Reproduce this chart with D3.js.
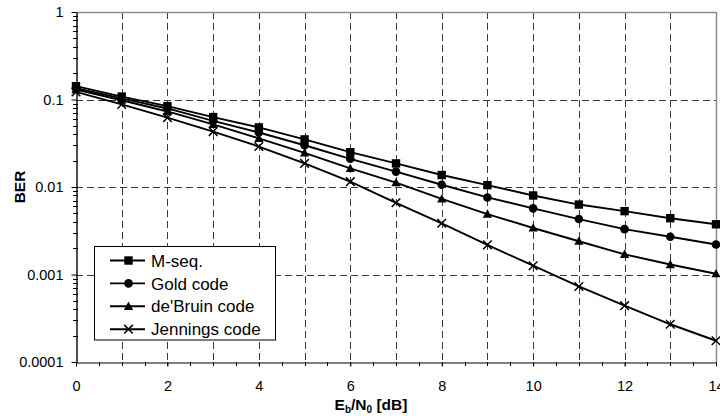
<!DOCTYPE html>
<html>
<head>
<meta charset="utf-8">
<script src="https://cdn.jsdelivr.net/npm/d3@7/dist/d3.min.js"></script>
<style>
  html, body { margin: 0; padding: 0; background: #fff; }
  svg { display: block; font-family: Arial, "Liberation Sans", sans-serif; }
</style>
</head>
<body>
<svg id="chart" width="720" height="416"></svg>
<script>
// Eb/N0 in dB
const snr = [0, 1, 2, 3, 4, 5, 6, 7, 8, 9, 10, 11, 12, 13, 14];

// Bit error rate per spreading code
const berMseq     = [0.142, 0.108, 0.084, 0.063, 0.048, 0.035, 0.025, 0.0186, 0.0137, 0.0105, 0.0080, 0.0063, 0.0053, 0.0044, 0.00375];
const berGold     = [0.135, 0.103, 0.079, 0.057, 0.042, 0.030, 0.021, 0.0150, 0.0106, 0.0076, 0.0057, 0.0043, 0.0033, 0.0027, 0.0022];
const berDeBruin  = [0.130, 0.098, 0.073, 0.052, 0.036, 0.0246, 0.0163, 0.0112, 0.0073, 0.0049, 0.0034, 0.0024, 0.0017, 0.0013, 0.00102];
const berJennings = [0.122, 0.088, 0.062, 0.043, 0.029, 0.0186, 0.0115, 0.0066, 0.00385, 0.00218, 0.00126, 0.00073, 0.00044, 0.00027, 0.000175];

const seriesNames = ["M-seq.", "Gold code", "de'Bruin code", "Jennings code"];
const seriesMarkers = ["square", "circle", "triangle", "cross"];

const xTickValues = [0, 2, 4, 6, 8, 10, 12, 14];
const yTickValues = [0.0001, 0.001, 0.01, 0.1, 1];
const yTickLabels = ["0.0001", "0.001", "0.01", "0.1", "1"];

const series = [berMseq, berGold, berDeBruin, berJennings].map((vals, i) => ({
  name: seriesNames[i],
  marker: seriesMarkers[i],
  points: snr.map((s, j) => ({ x: s, y: vals[j] }))
}));

const svg = d3.select("#chart");
const plot = { left: 76, right: 716, top: 12, bottom: 362 };

const x = d3.scaleLinear().domain([0, 14]).range([plot.left, plot.right]);
const y = d3.scaleLog().domain([0.0001, 1]).range([plot.bottom, plot.top]);

// Dashed grid
const grid = svg.append("g").attr("stroke", "#3a3a3a").attr("stroke-width", 1)
  .attr("stroke-dasharray", "7,4").attr("fill", "none");
d3.range(1, 14).forEach(v => {
  const px = Math.round(x(v)) + 0.5;
  grid.append("line").attr("x1", px).attr("x2", px).attr("y1", plot.top).attr("y2", plot.bottom);
});
[0.1, 0.01, 0.001].forEach(v => {
  const py = Math.round(y(v)) + 0.5;
  grid.append("line").attr("x1", plot.left).attr("x2", plot.right).attr("y1", py).attr("y2", py);
});

// Plot frame: grey top and right edges
svg.append("line").attr("x1", plot.left).attr("x2", plot.right + 0.5)
  .attr("y1", plot.top + 0.5).attr("y2", plot.top + 0.5)
  .attr("stroke", "#8c8c8c").attr("stroke-width", 1.5);
svg.append("line").attr("x1", plot.right + 0.5).attr("x2", plot.right + 0.5)
  .attr("y1", plot.top).attr("y2", plot.bottom)
  .attr("stroke", "#8c8c8c").attr("stroke-width", 1.5);

// X axis with minor ticks every 0.5 dB
const xAxis = d3.axisBottom(x).tickValues(xTickValues).tickSize(4).tickSizeOuter(0)
  .tickFormat(d3.format("d"));
const gx = svg.append("g").attr("transform", `translate(0,${plot.bottom + 0.5})`).call(xAxis);
gx.select(".domain").attr("stroke", "#000").attr("stroke-width", 1.2);
gx.selectAll(".tick text").attr("font-size", "14.5px").attr("font-family", "Arial, 'Liberation Sans', sans-serif")
  .attr("fill", "#000").attr("dy", "1.45em");
gx.selectAll(".tick line").attr("stroke", "#000");
const xMinor = svg.append("g").attr("stroke", "#000").attr("stroke-width", 1);
d3.range(0, 14.01, 0.5).forEach(v => {
  const px = Math.round(x(v)) + 0.5;
  xMinor.append("line").attr("x1", px).attr("x2", px).attr("y1", plot.bottom).attr("y2", plot.bottom + 4);
});

// Y axis (log) with minor ticks
const yAxis = d3.axisLeft(y).tickValues(yTickValues).tickSize(5).tickSizeOuter(0)
  .tickFormat((d, i) => yTickLabels[i]);
const gy = svg.append("g").attr("transform", `translate(${plot.left + 0.5},0)`).call(yAxis);
gy.select(".domain").attr("stroke", "#000").attr("stroke-width", 1.4);
gy.selectAll(".tick line").attr("stroke", "#000");
gy.selectAll(".tick text").attr("font-size", "14.5px").attr("font-family", "Arial, 'Liberation Sans', sans-serif")
  .attr("fill", "#000").attr("x", -13);
const yMinor = svg.append("g").attr("stroke", "#000").attr("stroke-width", 1);
[0.0001, 0.001, 0.01, 0.1].forEach(dec => {
  d3.range(2, 10).forEach(m => {
    const py = Math.round(y(dec * m)) + 0.5;
    yMinor.append("line").attr("x1", plot.left - 3).attr("x2", plot.left + 2).attr("y1", py).attr("y2", py);
  });
});

// Axis titles
svg.append("text").attr("transform", `translate(25,${(plot.top + plot.bottom) / 2}) rotate(-90)`)
  .attr("text-anchor", "middle").attr("font-size", "15.5px").attr("font-weight", "bold").text("BER");

const xt = svg.append("text").attr("x", 371).attr("y", 409.5).attr("text-anchor", "middle")
  .attr("font-size", "15.5px").attr("font-weight", "bold");
xt.append("tspan").text("E");
xt.append("tspan").attr("font-size", "10px").attr("dy", "3").text("b");
xt.append("tspan").attr("dy", "-3").text("/N");
xt.append("tspan").attr("font-size", "10px").attr("dy", "3").text("0");
xt.append("tspan").attr("dy", "-3").text(" [dB]");

// Marker drawing
function drawMarker(g, type, cx, cy) {
  if (type === "square") {
    g.append("rect").attr("x", cx - 4.2).attr("y", cy - 4.2).attr("width", 8.4).attr("height", 8.4).attr("fill", "#000");
  } else if (type === "circle") {
    g.append("circle").attr("cx", cx).attr("cy", cy).attr("r", 4.3).attr("fill", "#000");
  } else if (type === "triangle") {
    g.append("path").attr("d", `M${cx},${cy - 4.8}L${cx + 4.6},${cy + 3.6}L${cx - 4.6},${cy + 3.6}Z`).attr("fill", "#000");
  } else {
    g.append("path").attr("d", `M${cx - 4.3},${cy - 4.3}L${cx + 4.3},${cy + 4.3}M${cx - 4.3},${cy + 4.3}L${cx + 4.3},${cy - 4.3}`)
      .attr("stroke", "#000").attr("stroke-width", 1.5).attr("fill", "none");
  }
}

// Series lines and markers
const line = d3.line().x(d => x(d.x)).y(d => y(d.y));
series.forEach(s => {
  const g = svg.append("g");
  g.append("path").datum(s.points).attr("d", line).attr("fill", "none")
    .attr("stroke", "#000").attr("stroke-width", 1.9);
  s.points.forEach(p => drawMarker(g, s.marker, x(p.x), y(p.y)));
});

// Legend
const legend = svg.append("g");
legend.append("rect").attr("x", 94.5).attr("y", 246.5).attr("width", 181).attr("height", 93.5)
  .attr("fill", "#fff").attr("stroke", "#000").attr("stroke-width", 1);
series.forEach((s, i) => {
  const cy = 260.5 + i * 22.9;
  legend.append("line").attr("x1", 110).attr("x2", 145).attr("y1", cy).attr("y2", cy)
    .attr("stroke", "#000").attr("stroke-width", 1.9);
  drawMarker(legend, s.marker, 128.5, cy);
  legend.append("text").attr("x", 151).attr("y", cy).attr("dy", "0.36em")
    .attr("font-size", "17px").attr("fill", "#000").text(s.name);
});
</script>
</body>
</html>
